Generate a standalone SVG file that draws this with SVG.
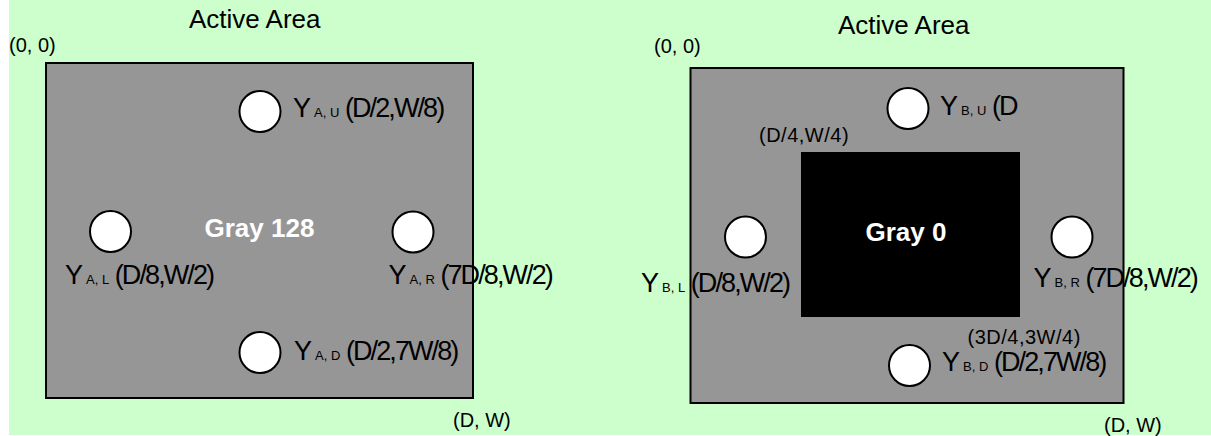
<svg xmlns="http://www.w3.org/2000/svg" width="1211" height="436" viewBox="0 0 1211 436">
<style>
  text { font-family: "Liberation Sans", Arial, sans-serif; fill: #000; }
  .title { font-size: 26px; }
  .corner { font-size: 20px; }
  .coord { font-size: 20px; letter-spacing: 0.5px; }
  .lbl { font-size: 27px; }
  .sub { font-size: 13px; }
  .xy { letter-spacing: -1.9px; }
  .big { font-size: 26px; font-weight: bold; fill: #fff; }
  .area { fill: #969696; stroke: #000; stroke-width: 2; }
  .pt { fill: #fff; stroke: #000; stroke-width: 2; }
</style>
<rect x="9" y="0" width="1202" height="435" fill="#CCFFCC"/>

<g id="panel-a">
  <text class="title" x="189" y="27.5">Active Area</text>
  <text class="corner" x="9" y="52">(0, 0)</text>
  <rect id="area-a" class="area" x="46" y="63" width="427" height="335"/>
  <text class="big" x="204.5" y="236.5">Gray 128</text>
  <text class="corner" x="453" y="427">(D, W)</text>
  <g id="ya-u">
    <circle class="pt" cx="260" cy="111.5" r="20.5"/>
    <text class="lbl" x="293" y="117">Y<tspan class="sub" dx="3">A, U</tspan><tspan class="xy"> (D/2,W/8)</tspan></text>
  </g>
  <g id="ya-l">
    <circle class="pt" cx="110.5" cy="231.5" r="20.5"/>
    <text class="lbl" x="65" y="283.5">Y<tspan class="sub" dx="3">A, L</tspan><tspan class="xy"> (D/8,W/2)</tspan></text>
  </g>
  <g id="ya-r">
    <circle class="pt" cx="413" cy="232" r="20.5"/>
    <text class="lbl" x="388.5" y="283.5">Y<tspan class="sub" dx="3">A, R</tspan><tspan class="xy"> (7D/8,W/2)</tspan></text>
  </g>
  <g id="ya-d">
    <circle class="pt" cx="260" cy="352.5" r="20.5"/>
    <text class="lbl" x="294" y="359.5">Y<tspan class="sub" dx="3">A, D</tspan><tspan class="xy"> (D/2,7W/8)</tspan></text>
  </g>
</g>

<g id="panel-b">
  <text class="title" x="838" y="34">Active Area</text>
  <text class="corner" x="654" y="53">(0, 0)</text>
  <rect id="area-b" class="area" x="690.5" y="68" width="433" height="335"/>
  <rect id="center-b" x="801" y="152" width="219" height="165" fill="#000"/>
  <text class="big" x="865.5" y="240.5">Gray 0</text>
  <text class="coord" x="759" y="141.5">(D/4,W/4)</text>
  <text class="coord" x="967.5" y="344">(3D/4,3W/4)</text>
  <text class="corner" x="1104" y="431.5">(D, W)</text>
  <g id="yb-u">
    <circle class="pt" cx="908" cy="108.5" r="20.5"/>
    <text class="lbl" x="940" y="115">Y<tspan class="sub" dx="3">B, U</tspan><tspan class="xy"> (D</tspan></text>
  </g>
  <g id="yb-l">
    <circle class="pt" cx="745.5" cy="237" r="20.5"/>
    <text class="lbl" x="641" y="291.5">Y<tspan class="sub" dx="3">B, L</tspan><tspan class="xy"> (D/8,W/2)</tspan></text>
  </g>
  <g id="yb-r">
    <circle class="pt" cx="1072" cy="237" r="20.5"/>
    <text class="lbl" x="1033.5" y="286.5">Y<tspan class="sub" dx="3">B, R</tspan><tspan class="xy"> (7D/8,W/2)</tspan></text>
  </g>
  <g id="yb-d">
    <circle class="pt" cx="909.5" cy="365.5" r="20.5"/>
    <text class="lbl" x="942" y="371">Y<tspan class="sub" dx="3">B, D</tspan><tspan class="xy"> (D/2,7W/8)</tspan></text>
  </g>
</g>
</svg>
